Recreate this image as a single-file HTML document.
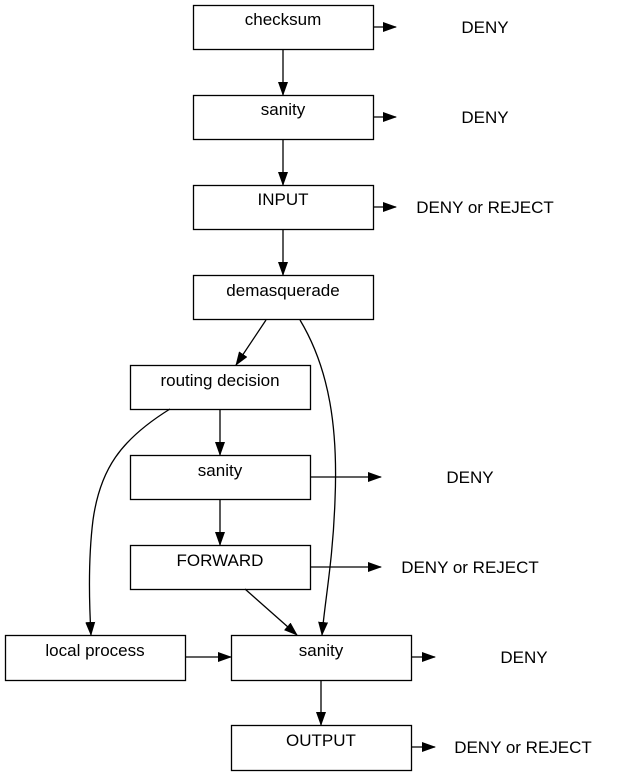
<!DOCTYPE html>
<html><head><meta charset="utf-8"><style>
html,body{margin:0;padding:0;background:#fff;}
svg{display:block;}
text{font-family:"Liberation Sans",Arial,sans-serif;font-size:17px;fill:#000;}
</style></head><body>
<svg width="619" height="775" viewBox="0 0 619 775" xmlns="http://www.w3.org/2000/svg">
<defs>
<marker id="a" markerWidth="14" markerHeight="10" refX="13" refY="5" orient="auto" markerUnits="userSpaceOnUse">
<path d="M0,0 L14,5 L0,10 z" fill="#000"/>
</marker>
</defs>
<g fill="none" stroke="#000" stroke-width="1.3">
<rect x="193.5" y="5.5" width="180" height="44"/>
<rect x="193.5" y="95.5" width="180" height="44"/>
<rect x="193.5" y="185.5" width="180" height="44"/>
<rect x="193.5" y="275.5" width="180" height="44"/>
<rect x="130.5" y="365.5" width="180" height="44"/>
<rect x="130.5" y="455.5" width="180" height="44"/>
<rect x="130.5" y="545.5" width="180" height="44"/>
<rect x="5.5" y="635.5" width="180" height="45"/>
<rect x="231.5" y="635.5" width="180" height="45"/>
<rect x="231.5" y="725.5" width="180" height="45"/>
</g>
<g fill="none" stroke="#000" stroke-width="1.3" marker-end="url(#a)">
<line x1="373" y1="27" x2="396" y2="27"/>
<line x1="373" y1="117" x2="396" y2="117"/>
<line x1="373" y1="207" x2="396" y2="207"/>
<line x1="310" y1="477" x2="381" y2="477"/>
<line x1="310" y1="567" x2="381" y2="567"/>
<line x1="411" y1="657" x2="435" y2="657"/>
<line x1="411" y1="747" x2="435" y2="747"/>
<line x1="283" y1="49" x2="283" y2="95"/>
<line x1="283" y1="139" x2="283" y2="185"/>
<line x1="283" y1="229" x2="283" y2="275"/>
<line x1="266" y1="320" x2="236" y2="365"/>
<line x1="220" y1="409" x2="220" y2="455"/>
<line x1="220" y1="499" x2="220" y2="545"/>
<line x1="245" y1="589" x2="297" y2="635"/>
<line x1="185" y1="657" x2="231" y2="657"/>
<line x1="321" y1="680" x2="321" y2="725"/>
<path d="M300,320 C330,370 338,430 335,500 C333,560 325,600 322,635"/>
<path d="M170,409 C120,440 100,470 93,520 C88,560 89,600 91,635"/>
</g>
<g text-anchor="middle">
<text x="283" y="25">checksum</text>
<text x="283" y="115">sanity</text>
<text x="283" y="205">INPUT</text>
<text x="283" y="296">demasquerade</text>
<text x="220" y="386">routing decision</text>
<text x="220" y="476">sanity</text>
<text x="220" y="566">FORWARD</text>
<text x="95" y="656">local process</text>
<text x="321" y="656">sanity</text>
<text x="321" y="746">OUTPUT</text>
<text x="485" y="33">DENY</text>
<text x="485" y="123">DENY</text>
<text x="485" y="213">DENY or REJECT</text>
<text x="470" y="483">DENY</text>
<text x="470" y="573">DENY or REJECT</text>
<text x="524" y="663">DENY</text>
<text x="523" y="753">DENY or REJECT</text>
</g>
</svg>
</body></html>
